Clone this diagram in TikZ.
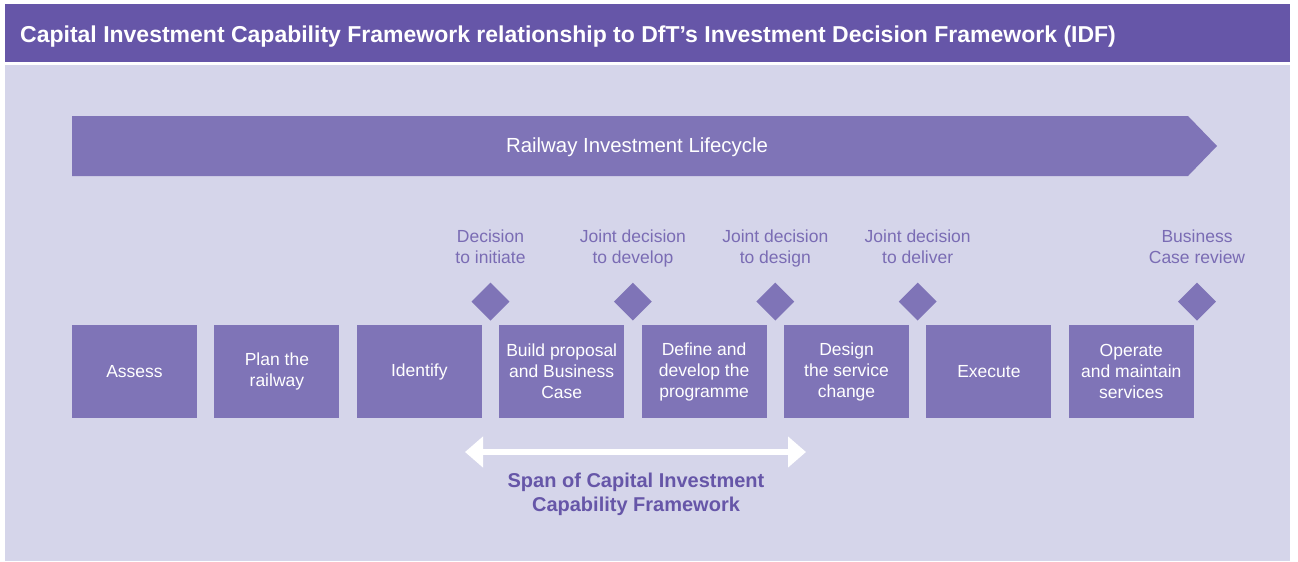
\documentclass[tikz,border=0pt]{standalone}
\usepackage{fontspec}
\setmainfont{Liberation Sans}
\usetikzlibrary{positioning,shapes.geometric,arrows.meta,calc}

\definecolor{titlebar}{HTML}{6656A8}
\definecolor{panel}{HTML}{D5D5EA}
\definecolor{stagefill}{HTML}{7F74B7}
\definecolor{gatetext}{HTML}{7A6CB4}

\begin{document}
\begin{tikzpicture}[x=1pt, y=-1pt,
    stage/.style={fill=stagefill, text=white, minimum width=125pt, minimum height=93pt,
        inner sep=0pt, align=center, font=\fontsize{17.5}{21}\selectfont},
    gate/.style={diamond, fill=stagefill, minimum width=38pt, minimum height=38pt, inner sep=0pt},
    gatelabel/.style={text=gatetext, align=center, inner sep=0pt, font=\fontsize{17.5}{21}\selectfont}]
    \useasboundingbox (0, 0) rectangle (1298, 562);
    \fill[white] (0, 0) rectangle (1298, 562);

    % header and panel
    \fill[titlebar] (5, 4) rectangle (1290, 62);
    \node[anchor=west, inner sep=0pt, text=white, font=\bfseries\fontsize{23}{27}\selectfont] (title) at (20, 37)
    {Capital Investment Capability Framework relationship to DfT’s Investment Decision Framework (IDF)};
    \fill[panel] (5, 65) rectangle (1290, 561);

    \fill[stagefill] (72, 116) -- (1188, 116) -- (1217, 146) -- (1188, 176) -- (72, 176) -- cycle;
    \node[text=white, font=\fontsize{20.4}{24}\selectfont] (lifecycle) at (637, 147.5) {Railway Investment Lifecycle};

    % stages
    \node[stage] (assess) at (134.5, 371.5) {Assess};
    \node[stage, right=17pt of assess] (plan) {Plan the\\railway};
    \node[stage, right=17pt of plan] (identify) {Identify};
    \node[stage, right=17pt of identify] (build) {Build proposal\\and Business\\Case};
    \node[stage, right=17pt of build] (define) {Define and\\develop the\\programme};
    \node[stage, right=17pt of define] (design) {Design\\the service\\change};
    \node[stage, right=17pt of design] (execute) {Execute};
    \node[stage, right=17pt of execute] (operate) {Operate\\and maintain\\services};

    % decision points
    \node[gate, anchor=south] (initiate) at ($(identify.north east)!.5!(build.north west) + (0, -4)$) {};
    \node[gate, anchor=south] (develop) at ($(build.north east)!.5!(define.north west) + (0, -4)$) {};
    \node[gate, anchor=south] (todesign) at ($(define.north east)!.5!(design.north west) + (0, -4)$) {};
    \node[gate, anchor=south] (deliver) at ($(design.north east)!.5!(execute.north west) + (0, -4)$) {};
    \node[gate, anchor=south] (review) at ($(operate.north east) + (3, -4)$) {};

    \node[gatelabel, above=19pt of initiate, anchor=base] (initiatetxt) {Decision\\to initiate};
    \node[gatelabel, above=19pt of develop, anchor=base] (developtxt) {Joint decision\\to develop};
    \node[gatelabel, above=19pt of todesign, anchor=base] (designtxt) {Joint decision\\to design};
    \node[gatelabel, above=19pt of deliver, anchor=base] (delivertxt) {Joint decision\\to deliver};
    \node[gatelabel, above=19pt of review, anchor=base] (reviewtxt) {Business\\Case review};

    % span
    \coordinate (spanL) at (465, 452);
    \coordinate (spanR) at (806, 452);
    \draw[white, line width=6pt, {Triangle[width=30pt, length=18pt]}-{Triangle[width=30pt, length=18pt]}]
    (spanL) -- (spanR);
    \node[text=titlebar, align=center, font=\bfseries\fontsize{20}{24}\selectfont] (span) at (636, 494)
    {Span of Capital Investment\\Capability Framework};
\end{tikzpicture}
\end{document}
